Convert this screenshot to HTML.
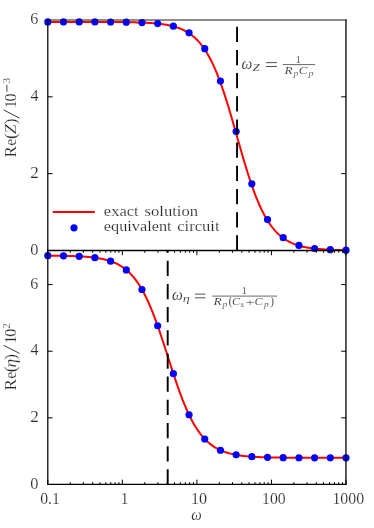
<!DOCTYPE html>
<html><head><meta charset="utf-8"><title>plot</title>
<style>
html,body{margin:0;padding:0;background:#fff;}
body{width:374px;height:528px;overflow:hidden;font-family:"Liberation Serif",serif;}
svg{display:block;will-change:transform;}
text{font-family:"Liberation Serif",serif;fill:#262626;stroke:#fff;stroke-width:0.18px;}
</style></head><body>
<svg width="374" height="528" viewBox="0 0 374 528" role="img" aria-label="Re(Z) and Re(eta) versus omega: exact solution and equivalent circuit">
<rect width="374" height="528" fill="#fff"/>
<g fill="none" stroke="#ff0000" stroke-width="2" stroke-linejoin="round">
<path d="M47.80,21.92 L48.80,21.92 L49.79,21.92 L50.79,21.92 L51.79,21.92 L52.79,21.92 L53.78,21.92 L54.78,21.92 L55.78,21.92 L56.78,21.92 L57.77,21.92 L58.77,21.92 L59.77,21.92 L60.77,21.92 L61.76,21.92 L62.76,21.93 L63.76,21.93 L64.75,21.93 L65.75,21.93 L66.75,21.93 L67.75,21.93 L68.74,21.93 L69.74,21.93 L70.74,21.93 L71.74,21.93 L72.73,21.93 L73.73,21.93 L74.73,21.93 L75.73,21.93 L76.72,21.93 L77.72,21.93 L78.72,21.93 L79.71,21.93 L80.71,21.94 L81.71,21.94 L82.71,21.94 L83.70,21.94 L84.70,21.94 L85.70,21.94 L86.70,21.94 L87.69,21.94 L88.69,21.94 L89.69,21.95 L90.68,21.95 L91.68,21.95 L92.68,21.95 L93.68,21.95 L94.67,21.96 L95.67,21.96 L96.67,21.96 L97.67,21.96 L98.66,21.97 L99.66,21.97 L100.66,21.97 L101.66,21.97 L102.65,21.98 L103.65,21.98 L104.65,21.99 L105.64,21.99 L106.64,21.99 L107.64,22.00 L108.64,22.00 L109.63,22.01 L110.63,22.01 L111.63,22.02 L112.63,22.03 L113.62,22.03 L114.62,22.04 L115.62,22.05 L116.62,22.06 L117.61,22.06 L118.61,22.07 L119.61,22.08 L120.60,22.09 L121.60,22.10 L122.60,22.12 L123.60,22.13 L124.59,22.14 L125.59,22.16 L126.59,22.17 L127.59,22.19 L128.58,22.20 L129.58,22.22 L130.58,22.24 L131.58,22.26 L132.57,22.28 L133.57,22.31 L134.57,22.33 L135.56,22.36 L136.56,22.38 L137.56,22.41 L138.56,22.44 L139.55,22.48 L140.55,22.51 L141.55,22.55 L142.55,22.59 L143.54,22.63 L144.54,22.68 L145.54,22.73 L146.54,22.78 L147.53,22.83 L148.53,22.89 L149.53,22.95 L150.52,23.02 L151.52,23.09 L152.52,23.16 L153.52,23.24 L154.51,23.32 L155.51,23.41 L156.51,23.50 L157.51,23.60 L158.50,23.71 L159.50,23.82 L160.50,23.94 L161.49,24.07 L162.49,24.20 L163.49,24.35 L164.49,24.50 L165.48,24.66 L166.48,24.83 L167.48,25.02 L168.48,25.21 L169.47,25.41 L170.47,25.63 L171.47,25.86 L172.47,26.11 L173.46,26.37 L174.46,26.65 L175.46,26.94 L176.45,27.25 L177.45,27.59 L178.45,27.94 L179.45,28.31 L180.44,28.70 L181.44,29.12 L182.44,29.56 L183.44,30.03 L184.43,30.52 L185.43,31.05 L186.43,31.61 L187.43,32.19 L188.42,32.81 L189.42,33.47 L190.42,34.17 L191.41,34.90 L192.41,35.68 L193.41,36.49 L194.41,37.36 L195.40,38.27 L196.40,39.23 L197.40,40.24 L198.40,41.31 L199.39,42.43 L200.39,43.61 L201.39,44.85 L202.39,46.15 L203.38,47.52 L204.38,48.95 L205.38,50.45 L206.37,52.03 L207.37,53.67 L208.37,55.40 L209.37,57.20 L210.36,59.07 L211.36,61.03 L212.36,63.07 L213.36,65.19 L214.35,67.39 L215.35,69.67 L216.35,72.04 L217.35,74.50 L218.34,77.03 L219.34,79.65 L220.34,82.35 L221.33,85.12 L222.33,87.98 L223.33,90.91 L224.33,93.91 L225.32,96.98 L226.32,100.12 L227.32,103.32 L228.32,106.58 L229.31,109.89 L230.31,113.24 L231.31,116.64 L232.31,120.07 L233.30,123.54 L234.30,127.03 L235.30,130.53 L236.29,134.05 L237.29,137.57 L238.29,141.08 L239.29,144.59 L240.28,148.08 L241.28,151.55 L242.28,154.99 L243.28,158.40 L244.27,161.76 L245.27,165.08 L246.27,168.35 L247.26,171.56 L248.26,174.71 L249.26,177.80 L250.26,180.82 L251.25,183.77 L252.25,186.64 L253.25,189.43 L254.25,192.15 L255.24,194.78 L256.24,197.34 L257.24,199.81 L258.24,202.19 L259.23,204.50 L260.23,206.72 L261.23,208.85 L262.22,210.91 L263.22,212.88 L264.22,214.78 L265.22,216.59 L266.21,218.33 L267.21,220.00 L268.21,221.58 L269.21,223.10 L270.20,224.55 L271.20,225.93 L272.20,227.25 L273.20,228.50 L274.19,229.69 L275.19,230.83 L276.19,231.91 L277.18,232.93 L278.18,233.90 L279.18,234.82 L280.18,235.69 L281.17,236.52 L282.17,237.31 L283.17,238.05 L284.17,238.75 L285.16,239.42 L286.16,240.05 L287.16,240.64 L288.16,241.20 L289.15,241.74 L290.15,242.24 L291.15,242.71 L292.14,243.16 L293.14,243.58 L294.14,243.98 L295.14,244.36 L296.13,244.71 L297.13,245.05 L298.13,245.36 L299.13,245.66 L300.12,245.94 L301.12,246.20 L302.12,246.45 L303.12,246.69 L304.11,246.91 L305.11,247.12 L306.11,247.31 L307.10,247.50 L308.10,247.67 L309.10,247.84 L310.10,247.99 L311.09,248.14 L312.09,248.27 L313.09,248.40 L314.09,248.52 L315.08,248.64 L316.08,248.75 L317.08,248.85 L318.07,248.94 L319.07,249.03 L320.07,249.12 L321.07,249.20 L322.06,249.27 L323.06,249.34 L324.06,249.41 L325.06,249.47 L326.05,249.53 L327.05,249.58 L328.05,249.63 L329.05,249.68 L330.04,249.73 L331.04,249.77 L332.04,249.81 L333.03,249.85 L334.03,249.88 L335.03,249.92 L336.03,249.95 L337.02,249.98 L338.02,250.01 L339.02,250.03 L340.02,250.06 L341.01,250.08 L342.01,250.10 L343.01,250.13 L344.01,250.14 L345.00,250.16 L346.00,250.18"/>
<path d="M47.80,255.63 L48.80,255.64 L49.79,255.65 L50.79,255.66 L51.79,255.67 L52.79,255.68 L53.78,255.69 L54.78,255.70 L55.78,255.71 L56.78,255.72 L57.77,255.74 L58.77,255.75 L59.77,255.77 L60.77,255.78 L61.76,255.80 L62.76,255.82 L63.76,255.84 L64.75,255.86 L65.75,255.88 L66.75,255.90 L67.75,255.93 L68.74,255.96 L69.74,255.98 L70.74,256.01 L71.74,256.04 L72.73,256.08 L73.73,256.11 L74.73,256.15 L75.73,256.19 L76.72,256.24 L77.72,256.28 L78.72,256.33 L79.71,256.38 L80.71,256.44 L81.71,256.50 L82.71,256.56 L83.70,256.62 L84.70,256.69 L85.70,256.77 L86.70,256.85 L87.69,256.93 L88.69,257.02 L89.69,257.12 L90.68,257.22 L91.68,257.32 L92.68,257.44 L93.68,257.56 L94.67,257.69 L95.67,257.82 L96.67,257.97 L97.67,258.12 L98.66,258.29 L99.66,258.46 L100.66,258.65 L101.66,258.84 L102.65,259.05 L103.65,259.27 L104.65,259.50 L105.64,259.75 L106.64,260.02 L107.64,260.30 L108.64,260.59 L109.63,260.91 L110.63,261.24 L111.63,261.59 L112.63,261.97 L113.62,262.36 L114.62,262.78 L115.62,263.23 L116.62,263.70 L117.61,264.19 L118.61,264.72 L119.61,265.28 L120.60,265.86 L121.60,266.49 L122.60,267.14 L123.60,267.84 L124.59,268.57 L125.59,269.34 L126.59,270.16 L127.59,271.02 L128.58,271.92 L129.58,272.88 L130.58,273.88 L131.58,274.94 L132.57,276.04 L133.57,277.21 L134.57,278.43 L135.56,279.71 L136.56,281.06 L137.56,282.46 L138.56,283.94 L139.55,285.48 L140.55,287.08 L141.55,288.76 L142.55,290.51 L143.54,292.32 L144.54,294.22 L145.54,296.18 L146.54,298.22 L147.53,300.33 L148.53,302.52 L149.53,304.78 L150.52,307.11 L151.52,309.51 L152.52,311.99 L153.52,314.53 L154.51,317.14 L155.51,319.81 L156.51,322.54 L157.51,325.33 L158.50,328.17 L159.50,331.06 L160.50,334.00 L161.49,336.98 L162.49,340.00 L163.49,343.04 L164.49,346.11 L165.48,349.20 L166.48,352.31 L167.48,355.42 L168.48,358.54 L169.47,361.65 L170.47,364.75 L171.47,367.84 L172.47,370.90 L173.46,373.94 L174.46,376.95 L175.46,379.92 L176.45,382.85 L177.45,385.73 L178.45,388.57 L179.45,391.34 L180.44,394.06 L181.44,396.72 L182.44,399.32 L183.44,401.84 L184.43,404.30 L185.43,406.69 L186.43,409.01 L187.43,411.25 L188.42,413.43 L189.42,415.52 L190.42,417.55 L191.41,419.50 L192.41,421.37 L193.41,423.18 L194.41,424.91 L195.40,426.57 L196.40,428.16 L197.40,429.69 L198.40,431.15 L199.39,432.54 L200.39,433.87 L201.39,435.14 L202.39,436.35 L203.38,437.50 L204.38,438.60 L205.38,439.65 L206.37,440.64 L207.37,441.58 L208.37,442.48 L209.37,443.33 L210.36,444.13 L211.36,444.90 L212.36,445.62 L213.36,446.31 L214.35,446.96 L215.35,447.57 L216.35,448.16 L217.35,448.71 L218.34,449.23 L219.34,449.72 L220.34,450.18 L221.33,450.62 L222.33,451.04 L223.33,451.43 L224.33,451.80 L225.32,452.15 L226.32,452.48 L227.32,452.79 L228.32,453.08 L229.31,453.36 L230.31,453.62 L231.31,453.86 L232.31,454.09 L233.30,454.31 L234.30,454.52 L235.30,454.71 L236.29,454.89 L237.29,455.06 L238.29,455.22 L239.29,455.38 L240.28,455.52 L241.28,455.65 L242.28,455.78 L243.28,455.90 L244.27,456.01 L245.27,456.12 L246.27,456.22 L247.26,456.31 L248.26,456.40 L249.26,456.48 L250.26,456.56 L251.25,456.64 L252.25,456.71 L253.25,456.77 L254.25,456.83 L255.24,456.89 L256.24,456.94 L257.24,457.00 L258.24,457.04 L259.23,457.09 L260.23,457.13 L261.23,457.17 L262.22,457.21 L263.22,457.24 L264.22,457.28 L265.22,457.31 L266.21,457.34 L267.21,457.37 L268.21,457.39 L269.21,457.42 L270.20,457.44 L271.20,457.46 L272.20,457.48 L273.20,457.50 L274.19,457.52 L275.19,457.54 L276.19,457.55 L277.18,457.57 L278.18,457.58 L279.18,457.59 L280.18,457.61 L281.17,457.62 L282.17,457.63 L283.17,457.64 L284.17,457.65 L285.16,457.66 L286.16,457.67 L287.16,457.67 L288.16,457.68 L289.15,457.69 L290.15,457.70 L291.15,457.70 L292.14,457.71 L293.14,457.71 L294.14,457.72 L295.14,457.72 L296.13,457.73 L297.13,457.73 L298.13,457.74 L299.13,457.74 L300.12,457.75 L301.12,457.75 L302.12,457.75 L303.12,457.75 L304.11,457.76 L305.11,457.76 L306.11,457.76 L307.10,457.77 L308.10,457.77 L309.10,457.77 L310.10,457.77 L311.09,457.77 L312.09,457.77 L313.09,457.78 L314.09,457.78 L315.08,457.78 L316.08,457.78 L317.08,457.78 L318.07,457.78 L319.07,457.78 L320.07,457.79 L321.07,457.79 L322.06,457.79 L323.06,457.79 L324.06,457.79 L325.06,457.79 L326.05,457.79 L327.05,457.79 L328.05,457.79 L329.05,457.79 L330.04,457.79 L331.04,457.79 L332.04,457.79 L333.03,457.79 L334.03,457.80 L335.03,457.80 L336.03,457.80 L337.02,457.80 L338.02,457.80 L339.02,457.80 L340.02,457.80 L341.01,457.80 L342.01,457.80 L343.01,457.80 L344.01,457.80 L345.00,457.80 L346.00,457.80"/>
</g>
<path d="M345.95,19.5 V250.45" stroke="#000" stroke-width="1.3" fill="none"/>
<g fill="#0000ff"><circle cx="47.80" cy="21.92" r="3.6"/><circle cx="63.49" cy="21.93" r="3.6"/><circle cx="79.19" cy="21.93" r="3.6"/><circle cx="94.88" cy="21.95" r="3.6"/><circle cx="110.58" cy="22.01" r="3.6"/><circle cx="126.27" cy="22.16" r="3.6"/><circle cx="141.97" cy="22.55" r="3.6"/><circle cx="157.66" cy="23.56" r="3.6"/><circle cx="173.36" cy="26.20" r="3.6"/><circle cx="189.05" cy="32.86" r="3.6"/><circle cx="204.75" cy="48.67" r="3.6"/><circle cx="220.44" cy="81.11" r="3.6"/><circle cx="236.14" cy="131.52" r="3.6"/><circle cx="251.83" cy="183.82" r="3.6"/><circle cx="267.53" cy="219.59" r="3.6"/><circle cx="283.22" cy="237.68" r="3.6"/><circle cx="298.92" cy="245.43" r="3.6"/><circle cx="314.61" cy="248.52" r="3.6"/><circle cx="330.31" cy="249.71" r="3.6"/><circle cx="346.00" cy="250.17" r="3.6"/><circle cx="47.80" cy="255.63" r="3.6"/><circle cx="63.49" cy="255.83" r="3.6"/><circle cx="79.19" cy="256.35" r="3.6"/><circle cx="94.88" cy="257.72" r="3.6"/><circle cx="110.58" cy="261.22" r="3.6"/><circle cx="126.27" cy="269.90" r="3.6"/><circle cx="141.97" cy="289.49" r="3.6"/><circle cx="157.66" cy="325.77" r="3.6"/><circle cx="173.36" cy="373.63" r="3.6"/><circle cx="189.05" cy="414.76" r="3.6"/><circle cx="204.75" cy="438.99" r="3.6"/><circle cx="220.44" cy="450.23" r="3.6"/><circle cx="236.14" cy="454.86" r="3.6"/><circle cx="251.83" cy="456.68" r="3.6"/><circle cx="267.53" cy="457.37" r="3.6"/><circle cx="283.22" cy="457.64" r="3.6"/><circle cx="298.92" cy="457.74" r="3.6"/><circle cx="314.61" cy="457.78" r="3.6"/><circle cx="330.31" cy="457.79" r="3.6"/><circle cx="346.00" cy="457.80" r="3.6"/></g>
<g stroke="#000" stroke-width="1.9" stroke-dasharray="15.25 7.92" fill="none">
<path d="M237.05,250.55 V20.0"/>
<path d="M167.70,484.55 V250.45"/>
</g>
<g fill="none" stroke="#000" stroke-width="1.25">
<path d="M47.8,19.5 V485.07"/>
<path d="M345.95,250.45 V485.07" stroke-width="1.3"/>
<path d="M47.18,20.0 H346.65" stroke-width="1" stroke="#1a1a1a"/>
<path d="M47.18,250.45 H346.65" stroke-width="1.55"/>
<path d="M47.18,484.45 H346.65"/>
<path d="M47.8,173.63 h4.8 M346.0,173.63 h-4.8 M47.8,96.82 h4.8 M346.0,96.82 h-4.8 " stroke-width="1"/>
<path d="M47.80,484.45 v-4.8 M70.24,484.45 v-2.3 M83.37,484.45 v-2.3 M92.68,484.45 v-2.3 M99.91,484.45 v-2.3 M105.81,484.45 v-2.3 M110.80,484.45 v-2.3 M115.13,484.45 v-2.3 M118.94,484.45 v-2.3 M122.35,484.45 v-4.8 M144.79,484.45 v-2.3 M157.92,484.45 v-2.3 M167.23,484.45 v-2.3 M174.46,484.45 v-2.3 M180.36,484.45 v-2.3 M185.35,484.45 v-2.3 M189.68,484.45 v-2.3 M193.49,484.45 v-2.3 M196.90,484.45 v-4.8 M219.34,484.45 v-2.3 M232.47,484.45 v-2.3 M241.78,484.45 v-2.3 M249.01,484.45 v-2.3 M254.91,484.45 v-2.3 M259.90,484.45 v-2.3 M264.23,484.45 v-2.3 M268.04,484.45 v-2.3 M271.45,484.45 v-4.8 M293.89,484.45 v-2.3 M307.02,484.45 v-2.3 M316.33,484.45 v-2.3 M323.56,484.45 v-2.3 M329.46,484.45 v-2.3 M334.45,484.45 v-2.3 M338.78,484.45 v-2.3 M342.59,484.45 v-2.3 M346.00,484.45 v-4.8 M47.80,250.45 v4.8 M70.24,250.45 v2.3 M83.37,250.45 v2.3 M92.68,250.45 v2.3 M99.91,250.45 v2.3 M105.81,250.45 v2.3 M110.80,250.45 v2.3 M115.13,250.45 v2.3 M118.94,250.45 v2.3 M122.35,250.45 v4.8 M144.79,250.45 v2.3 M157.92,250.45 v2.3 M167.23,250.45 v2.3 M174.46,250.45 v2.3 M180.36,250.45 v2.3 M185.35,250.45 v2.3 M189.68,250.45 v2.3 M193.49,250.45 v2.3 M196.90,250.45 v4.8 M219.34,250.45 v2.3 M232.47,250.45 v2.3 M241.78,250.45 v2.3 M249.01,250.45 v2.3 M254.91,250.45 v2.3 M259.90,250.45 v2.3 M264.23,250.45 v2.3 M268.04,250.45 v2.3 M271.45,250.45 v4.8 M293.89,250.45 v2.3 M307.02,250.45 v2.3 M316.33,250.45 v2.3 M323.56,250.45 v2.3 M329.46,250.45 v2.3 M334.45,250.45 v2.3 M338.78,250.45 v2.3 M342.59,250.45 v2.3 M346.00,250.45 v4.8 M47.8,417.83 h4.8 M346.0,417.83 h-4.8 M47.8,351.21 h4.8 M346.0,351.21 h-4.8 M47.8,284.59 h4.8 M346.0,284.59 h-4.8 " stroke-width="1"/>
</g>
<path d="M52.8,212.0 H94.9" stroke="#ff0000" stroke-width="2" fill="none"/>
<circle cx="74" cy="227.8" r="3.6" fill="#0000ff"/>
<text transform="translate(103.86,215.60) scale(1.084,1)" font-size="15.2">exact</text><text transform="translate(144.52,215.60) scale(1.093,1)" font-size="15.2">solution</text><text transform="translate(103.86,230.90) scale(1.071,1)" font-size="15.2">equivalent</text><text transform="translate(177.17,230.90) scale(1.093,1)" font-size="15.2">circuit</text>
<text transform="translate(30.28,254.65) scale(0.969,1)" font-size="16.8">0</text><text transform="translate(30.14,177.83) scale(1.025,1)" font-size="16.8">2</text><text transform="translate(30.38,101.02) scale(0.960,1)" font-size="16.8">4</text><text transform="translate(30.21,24.20) scale(0.961,1)" font-size="16.8">6</text><text transform="translate(30.28,488.65) scale(0.969,1)" font-size="16.8">0</text><text transform="translate(30.14,422.03) scale(1.025,1)" font-size="16.8">2</text><text transform="translate(30.38,355.41) scale(0.960,1)" font-size="16.8">4</text><text transform="translate(30.21,288.79) scale(0.961,1)" font-size="16.8">6</text>
<text transform="translate(40.20,504.20) scale(0.935,1)" font-size="16.8">0.1</text><text transform="translate(120.85,504.20) scale(0.913,1)" font-size="16.8">1</text><text transform="translate(190.88,504.20) scale(0.960,1)" font-size="16.8">10</text><text transform="translate(262.02,504.20) scale(0.936,1)" font-size="16.8">100</text><text transform="translate(332.41,504.20) scale(0.943,1)" font-size="16.8">1000</text>
<text transform="translate(191.21,519.50) scale(0.924,1)" font-size="16.0" font-style="italic">ω</text>
<g transform="translate(15.6,157.1) rotate(-90)"><text transform="translate(-0.29,0.00) scale(1.070,1)" font-size="16.0">R</text><text transform="translate(11.39,0.00) scale(0.979,1)" font-size="16.0">e</text><text transform="translate(18.03,0.25) scale(1.000,1)" font-size="17.6">(</text><text transform="translate(23.09,0.00) scale(1.098,1)" font-size="16.0" font-style="italic">Z</text><text transform="translate(32.83,0.25) scale(1.000,1)" font-size="17.6">)</text><path d="M38.9,4 L47.2,-12" stroke="#262626" stroke-width="0.9" fill="none"/><text transform="translate(48.89,0.00) scale(1.000,1)" font-size="16.0">1</text><text transform="translate(55.69,0.00) scale(1.000,1)" font-size="16.0">0</text><path d="M65.3,-8.7 H72.3" stroke="#262626" stroke-width="0.85" fill="none"/><text transform="translate(73.56,-5.90) scale(1.000,1)" font-size="11.2" stroke-width="0.09">3</text></g>
<g transform="translate(15.6,390.2) rotate(-90)"><text transform="translate(-0.29,0.00) scale(1.070,1)" font-size="16.0">R</text><text transform="translate(11.39,0.00) scale(0.979,1)" font-size="16.0">e</text><text transform="translate(18.03,0.25) scale(1.000,1)" font-size="17.6">(</text><text transform="translate(22.68,0.00) scale(1.089,1)" font-size="16.0" font-style="italic">η</text><text transform="translate(30.53,0.25) scale(1.000,1)" font-size="17.6">)</text><path d="M36.8,4 L44.900000000000006,-12" stroke="#262626" stroke-width="0.9" fill="none"/><text transform="translate(46.39,0.00) scale(1.000,1)" font-size="16.0">1</text><text transform="translate(53.39,0.00) scale(1.000,1)" font-size="16.0">0</text><text transform="translate(61.51,-5.90) scale(1.000,1)" font-size="11.2" stroke-width="0.09">2</text></g>
<text transform="translate(241.49,68.60) scale(0.954,1)" font-size="16.0" font-style="italic">ω</text><text transform="translate(252.44,71.00) scale(1.164,1)" font-size="11.2" font-style="italic" stroke-width="0.09">Z</text><path d="M266,62.6 H276.9 M266,66.5 H276.9" stroke="#262626" stroke-width="0.8"/><path d="M282.8,64.6 H315.1" stroke="#262626" stroke-width="0.7"/><text transform="translate(295.62,62.90) scale(1.000,1)" font-size="11.2" stroke-width="0.09">1</text><text transform="translate(284.47,73.70) scale(1.191,1)" font-size="11.2" font-style="italic" stroke-width="0.09">R</text><text transform="translate(293.38,75.50) scale(1.200,1)" font-size="8.2" font-style="italic" stroke-width="0.04">p</text><text transform="translate(298.67,73.70) scale(1.165,1)" font-size="11.2" font-style="italic" stroke-width="0.09">C</text><text transform="translate(308.60,75.50) scale(1.246,1)" font-size="8.2" font-style="italic" stroke-width="0.04">p</text>
<text transform="translate(171.89,299.60) scale(0.954,1)" font-size="16.0" font-style="italic">ω</text><text transform="translate(182.79,301.90) scale(1.279,1)" font-size="11.2" font-style="italic" stroke-width="0.09">η</text><path d="M194.9,294.1 H205.5 M194.9,297.8 H205.5" stroke="#262626" stroke-width="0.8"/><path d="M212.4,296.1 H277.0" stroke="#262626" stroke-width="0.7"/><text transform="translate(241.62,294.40) scale(1.000,1)" font-size="11.2" stroke-width="0.09">1</text><text transform="translate(213.57,305.20) scale(1.206,1)" font-size="11.2" font-style="italic" stroke-width="0.09">R</text><text transform="translate(222.58,307.00) scale(1.200,1)" font-size="8.2" font-style="italic" stroke-width="0.04">p</text><text transform="translate(228.46,305.40) scale(1.000,1)" font-size="12.4" stroke-width="0.09">(</text><text transform="translate(232.03,305.20) scale(1.079,1)" font-size="11.2" font-style="italic" stroke-width="0.09">C</text><text transform="translate(240.49,307.00) scale(1.126,1)" font-size="8.2" font-style="italic" stroke-width="0.04">s</text><text transform="translate(245.35,305.90) scale(1.516,1)" font-size="11.2" stroke-width="0.09">+</text><text transform="translate(254.50,305.20) scale(1.122,1)" font-size="11.2" font-style="italic" stroke-width="0.09">C</text><text transform="translate(264.05,307.00) scale(1.154,1)" font-size="8.2" font-style="italic" stroke-width="0.04">p</text><text transform="translate(270.10,305.40) scale(1.000,1)" font-size="12.4" stroke-width="0.09">)</text>
</svg>
</body></html>
